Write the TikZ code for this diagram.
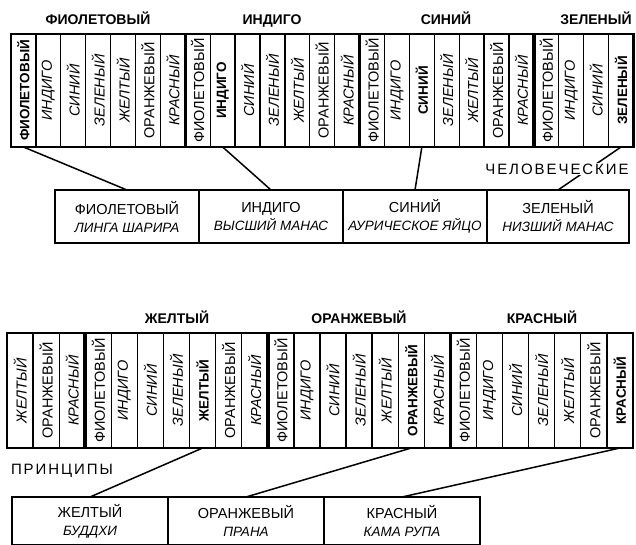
\documentclass[tikz,border=0pt]{standalone}
\usepackage{fontspec}
\setmainfont{Liberation Sans}
\usetikzlibrary{positioning}

\newcommand{\colname}[1]{\ifcase#1 ФИОЛЕТОВЫЙ\or ИНДИГО\or СИНИЙ\or ЗЕЛЕНЫЙ\or ЖЕЛТЫЙ\or ОРАНЖЕВЫЙ\or КРАСНЫЙ\fi}
\newcommand{\boxhead}[1]{{\fontsize{14.5}{14.5}\selectfont #1}}

\begin{document}
\begin{tikzpicture}
    [x=1pt,y=-1pt,
     cell/.style={draw, line width=1.3pt, inner sep=0pt, outer sep=0pt, font=\fontsize{14.5}{14.5}\selectfont},
     strip/.style={draw, line width=2.4pt},
     divider/.style={line width=3.6pt},
     grouplabel/.style={font=\bfseries\fontsize{14}{14}\selectfont, text height=10pt, text depth=3pt},
     spaced/.style={font=\fontsize{15}{15}\selectfont\addfontfeature{LetterSpace=13}},
     mbox/.style={draw, line width=1.8pt, outer sep=0pt, inner sep=0pt, align=center, minimum width=144pt, minimum height=53pt, font=\fontsize{13.5}{18}\selectfont},
     pbox/.style={draw, line width=1.8pt, outer sep=0pt, inner sep=0pt, align=center, minimum width=156pt, minimum height=48pt, font=\fontsize{13.5}{18}\selectfont},
     link/.style={line width=1.5pt}]
  \useasboundingbox (0,0) rectangle (636,544);

  % the two strips of cells, seven colours repeated
  \foreach \k in {0,...,48}{
    \pgfmathtruncatemacro\col{mod(\k,7)}
    \pgfmathtruncatemacro\grp{floor(\k/7)}
    \ifnum\k<25
      \pgfmathsetmacro\cx{11+(\k+0.5)*24.9}\def\cy{90.5}\def\cw{24.9}\def\ch{113}
    \else
      \pgfmathsetmacro\cx{7+(\k-25+0.5)*26.08}\def\cy{390.5}\def\cw{26.08}\def\ch{115}
    \fi
    \ifnum\col=\grp \def\cf{\bfseries\fontsize{13.5}{13.5}\selectfont}\else\ifnum\col=0 \def\cf{}\else\ifnum\col=5 \def\cf{}\else\def\cf{\itshape}\fi\fi\fi
    \node[cell, minimum width=\cw pt, minimum height=\ch pt] (c\k) at (\cx,\cy) {\rotatebox{90}{\cf\colname{\col}}};
  }
  \draw[strip] (c0.north west) rectangle (c24.south east);
  \draw[strip] (c25.north west) rectangle (c48.south east);
  \foreach \k in {7,14,21,28,35,42}
    \draw[divider] (c\k.north west) -- (c\k.south west);

  \node[grouplabel] (gv) at (98,21) {ФИОЛЕТОВЫЙ};
  \node[grouplabel] (gi) at (272,21) {ИНДИГО};
  \node[grouplabel] (gs) at (446,21) {СИНИЙ};
  \node[grouplabel] (gz) at (596,21) {ЗЕЛЕНЫЙ};
  \node[grouplabel] (gzh) at (177,320) {ЖЕЛТЫЙ};
  \node[grouplabel] (go) at (359,320) {ОРАНЖЕВЫЙ};
  \node[grouplabel] (gk) at (542,320) {КРАСНЫЙ};

  % human principles
  \node[mbox] (vbox) at (127,216.5) {\boxhead{ФИОЛЕТОВЫЙ}\\\textit{ЛИНГА ШАРИРА}};
  \node[mbox, right=0pt of vbox] (ibox) {\boxhead{ИНДИГО}\\\textit{ВЫСШИЙ МАНАС}};
  \node[mbox, right=0pt of ibox] (sbox) {\boxhead{СИНИЙ}\\\textit{АУРИЧЕСКОЕ ЯЙЦО}};
  \node[mbox, right=0pt of sbox, minimum width=142pt] (zbox) {\boxhead{ЗЕЛЕНЫЙ}\\\textit{НИЗШИЙ МАНАС}};

  \node[pbox] (zhbox) at (90,521) {\boxhead{ЖЕЛТЫЙ}\\\textit{БУДДХИ}};
  \node[pbox, right=0pt of zhbox] (obox) {\boxhead{ОРАНЖЕВЫЙ}\\\textit{ПРАНА}};
  \node[pbox, right=0pt of obox] (kbox) {\boxhead{КРАСНЫЙ}\\\textit{КАМА РУПА}};

  \foreach \from/\to in {c0/vbox, c8/ibox, c16/sbox, c24/zbox, c32/zhbox, c40/obox, c48/kbox}
    \draw[link] (\from.south) -- (\to.north);

  \node[spaced, fill=white, inner sep=1pt] (human) at (557,169) {ЧЕЛОВЕЧЕСКИЕ};
  \node[spaced] (princ) at (62,471) {ПРИНЦИПЫ};
\end{tikzpicture}
\end{document}
